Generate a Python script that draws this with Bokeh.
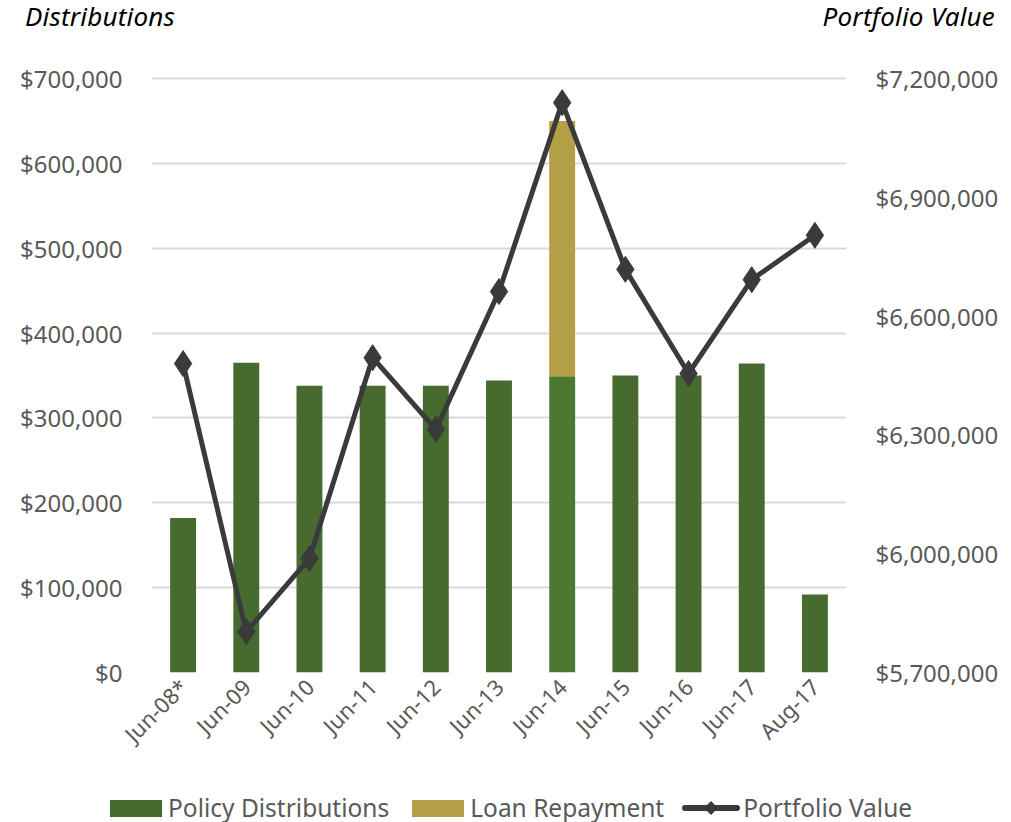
from bokeh.plotting import figure
from bokeh.layouts import column
from bokeh.models import (ColumnDataSource, Range1d, LinearAxis, FixedTicker,
                          NumeralTickFormatter, FactorRange, Div)
from bokeh.embed import file_html
from bokeh.resources import INLINE
import math

categories = ["Jun-08*", "Jun-09", "Jun-10", "Jun-11", "Jun-12", "Jun-13",
              "Jun-14", "Jun-15", "Jun-16", "Jun-17", "Aug-17"]
policy_distributions = [182000, 365000, 338000, 338000, 338000, 344000,
                        349000, 350000, 350000, 364000, 92000]
loan_repayment = [0, 0, 0, 0, 0, 0, 301000, 0, 0, 0, 0]
portfolio_value = [6480000, 5803000, 5988000, 6495000, 6314000, 6662000,
                   7139000, 6718000, 6455000, 6692000, 6804000]
left_ticks = list(range(0, 700001, 100000))
right_ticks = list(range(5700000, 7200001, 300000))
series_names = ["Policy Distributions", "Loan Repayment", "Portfolio Value"]

GREEN = "#476a2e"
GREEN_HI = "#4d7832"
GOLD = "#b49f47"
LINE = "#3a3a3a"
FONT = "Noto Sans"
TXT = "#595959"

bar_colors = [GREEN_HI if c == "Jun-14" else GREEN for c in categories]
loan_bottom = policy_distributions
loan_top = [a + b for a, b in zip(policy_distributions, loan_repayment)]

src = ColumnDataSource(dict(x=categories, pd=policy_distributions, lb=loan_bottom,
                            lt=loan_top, pv=portfolio_value, col=bar_colors))

W = 1000
hdr = Div(width=W, height=38, margin=(0, 0, 0, 0), text=(
    '<div style="display:flex;justify-content:space-between;width:%dpx;'
    'font-family:\'Noto Sans\';font-style:italic;font-size:26px;color:black;'
    'line-height:32px;padding-left:25px;box-sizing:border-box;letter-spacing:0.2px;">'
    '<span>Distributions</span><span style="margin-right:6px">Portfolio Value</span></div>' % (W + 1)))

# frame is 596px tall; the 700,000 / 7,200,000 lines sit 2px below its top edge
p = figure(width=1005, height=756, x_range=FactorRange(*categories, range_padding=0),
           y_range=Range1d(0, 702350), output_backend="svg", toolbar_location=None,
           min_border_left=151, min_border_right=159, min_border_top=38, min_border_bottom=122)
p.outline_line_color = None
p.background_fill_color = "white"

p.extra_y_ranges = {"pv": Range1d(5700000, 7205036)}

p.vbar(x="x", top="pd", width=0.41, source=src, fill_color="col", line_color=None)
p.vbar(x="x", bottom="lb", top="lt", width=0.41, source=src, fill_color=GOLD, line_color=None)
p.line(x="x", y="pv", source=src, y_range_name="pv", line_color=LINE, line_width=5)
p.scatter(x="x", y="pv", source=src, y_range_name="pv", marker="diamond",
          size=26, fill_color=LINE, line_color=LINE)

def style_y(ax):
    ax.formatter = NumeralTickFormatter(format="$0,0")
    ax.axis_line_color = None
    ax.major_tick_line_color = None
    ax.minor_tick_line_color = None
    ax.major_tick_out = 0
    ax.major_label_text_font = FONT
    ax.major_label_text_font_size = "24px"
    ax.major_label_text_color = TXT
    ax.major_label_standoff = 29

ya = p.yaxis[0]
ya.ticker = FixedTicker(ticks=left_ticks)
style_y(ya)
ya.major_label_text_align = "right"

ra = LinearAxis(y_range_name="pv")
ra.ticker = FixedTicker(ticks=right_ticks)
style_y(ra)
p.add_layout(ra, "right")

xa = p.xaxis[0]
xa.axis_line_color = None
xa.major_tick_line_color = None
xa.minor_tick_line_color = None
xa.major_tick_out = 0
xa.major_label_orientation = math.pi / 4
xa.major_label_text_font = FONT
xa.major_label_text_font_size = "22px"
xa.major_label_text_color = TXT
xa.major_label_standoff = 10

p.xgrid.grid_line_color = None
p.ygrid.grid_line_color = "#d9d9d9"
p.ygrid.grid_line_width = 2
p.ygrid.ticker = FixedTicker(ticks=left_ticks)

sw = 'display:inline-block;width:52px;height:17px;background:%s;'
legend_html = (
    '<div style="display:flex;align-items:center;font-family:\'Noto Sans\';font-size:24.5px;'
    'color:%s;padding-left:110px;height:28px;line-height:28px;white-space:nowrap;">' % TXT
    + '<span style="%s"></span><span style="margin:0 23px 0 6px">%s</span>' % (sw % GREEN, series_names[0])
    + '<span style="%s"></span><span style="margin:0 18px 0 6px">%s</span>' % (sw % GOLD, series_names[1])
    + '<span style="position:relative;display:inline-block;width:58px;height:16px;">'
      '<span style="position:absolute;left:0;top:5px;width:58px;height:6px;border-radius:3px;background:%s"></span>'
      '<span style="position:absolute;left:24px;top:3px;width:10px;height:10px;background:%s;transform:rotate(45deg)"></span>'
      '</span><span style="margin-left:3px">%s</span>' % (LINE, LINE, series_names[2])
    + '</div>')
leg = Div(width=W, height=28, margin=(0, 0, 0, 0), text=legend_html)

layout = column(hdr, p, leg, spacing=0)
open("out.html", "w").write(file_html(layout, INLINE))
